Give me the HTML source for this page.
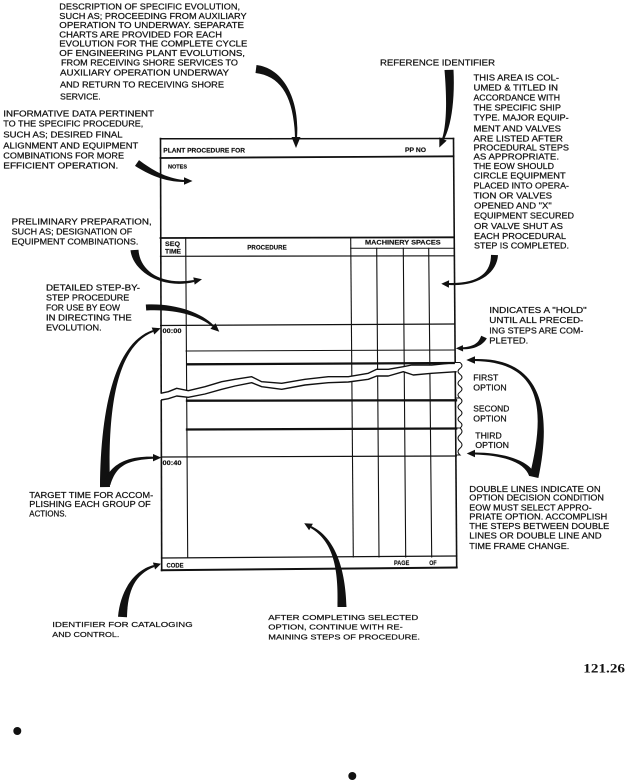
<!DOCTYPE html>
<html><head><meta charset="utf-8"><style>
html,body{margin:0;padding:0;background:#fff;}
svg{display:block;}
.t{font-family:"Liberation Sans",sans-serif;font-size:8.3px;fill:#111;stroke:#111;stroke-width:0.22px;}
.s{font-family:"Liberation Sans",sans-serif;font-size:7.6px;fill:#111;stroke:#111;stroke-width:0.2px;}
.b{font-family:"Liberation Sans",sans-serif;font-size:6px;font-weight:bold;fill:#111;stroke:#111;stroke-width:0.15px;}
</style></head><body>
<svg width="629" height="784" viewBox="0 0 629 784" xmlns="http://www.w3.org/2000/svg">
<rect x="0" y="0" width="629" height="784" fill="#fff"/>

<!-- FORM lines -->
<g stroke="#111" fill="none" stroke-linecap="square">
  <line x1="160.5" y1="138.5" x2="161.7" y2="570.5" stroke-width="1.6"/>
  <line x1="453.5" y1="138.5" x2="456.7" y2="567.5" stroke-width="1.6"/>
  <line x1="185.7" y1="237.7" x2="187.7" y2="557.5" stroke-width="1.1"/>
  <line x1="350.7" y1="237.7" x2="353.3" y2="557" stroke-width="1.1"/>
  <line x1="376.7" y1="248.3" x2="379" y2="557" stroke-width="1.1"/>
  <line x1="403.3" y1="248.3" x2="405.7" y2="557" stroke-width="1.1"/>
  <line x1="428.7" y1="248.3" x2="431.7" y2="557" stroke-width="1.1"/>
  <line x1="160.5" y1="138.8" x2="453.5" y2="138.5" stroke-width="1.5"/>
  <line x1="160.5" y1="158" x2="453.5" y2="156.3" stroke-width="1.8"/>
  <line x1="160.5" y1="238" x2="453.7" y2="237.3" stroke-width="1.8"/>
  <line x1="350.7" y1="248.3" x2="453.8" y2="248.3" stroke-width="1"/>
  <line x1="160.5" y1="256.3" x2="453.8" y2="255.8" stroke-width="1.2"/>
  <line x1="160.6" y1="325.5" x2="454.3" y2="324" stroke-width="1.2"/>
  <line x1="186" y1="351" x2="454.5" y2="350" stroke-width="1"/>
  <line x1="161" y1="457" x2="456.3" y2="456" stroke-width="1.2"/>
  <line x1="161.5" y1="558" x2="456.7" y2="556" stroke-width="1.2"/>
  <line x1="161.7" y1="570.3" x2="456.7" y2="567.5" stroke-width="2"/>
  <line x1="187" y1="400.7" x2="456" y2="400.3" stroke-width="2.3"/>
  <line x1="187" y1="429.5" x2="456.2" y2="428.5" stroke-width="2.3"/>
</g>

<!-- torn gap -->
<polygon fill="#fff" points="157,393.3 161,393.3 168.3,391.7 176.7,388.3 188.3,390.7 205,386.7 221.7,381.7 235,379.3 251.7,376.7 261.7,381.7 281.7,383.3 305,379.3 328.3,376.7 348.3,376.7 368.3,373.3 376.7,369.3 388.3,369.3 403.3,366.7 411.7,365 431.7,365 455,362.7 458,362.7 458,371.7 456.7,371.7 431.7,373.3 413.3,375 403.3,371.7 388.3,376 376.7,376 368.3,379.3 348.3,382 328.3,382.7 305,385 281.7,389.3 261.7,386.7 251.7,382.7 235,386 221.7,389.3 205,394 188.3,397.3 176.7,396 168.3,398.7 161,400 157,400"/>
<g stroke="#111" fill="none" stroke-width="1.4" stroke-linejoin="round">
  <polyline points="160.6,393.3 168.3,391.7 176.7,388.3 188.3,390.7 205,386.7 221.7,381.7 235,379.3 251.7,376.7 261.7,381.7 281.7,383.3 305,379.3 328.3,376.7 348.3,376.7 368.3,373.3 376.7,369.3 388.3,369.3 403.3,366.7 411.7,365 431.7,365 455,362.7"/>
  <polyline points="161,400 168.3,398.7 176.7,396 188.3,397.3 205,394 221.7,389.3 235,386 251.7,382.7 261.7,386.7 281.7,389.3 305,385 328.3,382.7 348.3,382 368.3,379.3 376.7,376 388.3,376 403.3,371.7 413.3,375 431.7,373.3 456.6,371.7"/>
</g>
<line x1="186" y1="364.3" x2="454.8" y2="363" stroke="#111" stroke-width="2.3"/>

<!-- option bracket -->
<g stroke="#111" fill="none" stroke-width="1">
  <path d="M455,362.5 H460 q4,2.96 0,5.92 t0,5.92 t0,5.92 t0,5.92 t0,5.92 t0,5.92"/>
  <path d="M456,398 H460 q4,3 0,6 t0,6 t0,6 t0,6 t0,6"/>
  <path d="M456,428 H460 q4,3.375 0,6.75 t0,6.75 t0,6.75 t0,6.75 H456"/>
</g>

<!-- form labels -->
<text class="b" x="163.3" y="152.3" textLength="81.7" lengthAdjust="spacingAndGlyphs">PLANT PROCEDURE FOR</text>
<text class="b" x="405" y="152" textLength="21" lengthAdjust="spacingAndGlyphs">PP NO</text>
<text class="b" x="168" y="168.5" textLength="19" lengthAdjust="spacingAndGlyphs" style="font-size:5.5px">NOTES</text>
<text class="b" x="165" y="246.2" textLength="15" lengthAdjust="spacingAndGlyphs">SEQ</text>
<text class="b" x="165" y="253.3" textLength="16" lengthAdjust="spacingAndGlyphs">TIME</text>
<text class="b" x="247.3" y="249.6" textLength="39.4" lengthAdjust="spacingAndGlyphs">PROCEDURE</text>
<text class="b" x="365" y="244.6" textLength="75.7" lengthAdjust="spacingAndGlyphs">MACHINERY  SPACES</text>
<text class="b" x="162.5" y="333.2" textLength="19" lengthAdjust="spacingAndGlyphs">00:00</text>
<text class="b" x="162.5" y="465" textLength="19" lengthAdjust="spacingAndGlyphs">00:40</text>
<text class="b" x="166.5" y="567.3" textLength="17" lengthAdjust="spacingAndGlyphs">CODE</text>
<text class="b" x="394" y="565.2" textLength="15.3" lengthAdjust="spacingAndGlyphs">PAGE</text>
<text class="b" x="429.3" y="565" textLength="7.4" lengthAdjust="spacingAndGlyphs">OF</text>

<!-- ARROWS -->
<g fill="#111">
  <path d="M256.5,65 C282.5,68 300,98 297,138 L295,138 C294,98 281.5,76 255.5,73 Z"/>
  <path d="M291.5,137 L300.5,137 L296,148 Z"/>
  <path d="M444.5,70 C447,100 446.7,124 442.1,138.6 L443.9,139.4 C451.3,126 455,99.7 453.5,69.7 Z"/>
  <path d="M439.3,137.4 L446.7,140.6 L439.3,147.5 Z"/>
  <path d="M139,160.1 C151.7,169.5 165.1,178 184.1,180 L183.9,182 C164.9,182 148.3,174.5 135,165.9 Z"/>
  <path d="M184,177.3 L184,184.7 L192.5,181 Z"/>
  <path d="M130.5,250.3 C132.5,270.3 160.4,290 194.2,282 L193.8,280 C159.6,286 139.5,269.7 138.5,249.7 Z"/>
  <path d="M194.7,284.6 L193.3,277.4 L202,279.3 Z"/>
  <path d="M145.8,304.5 C174.8,303 201.4,312.5 213.7,325.3 L212.3,326.7 C198.6,315.5 175.2,309 146.2,310.5 Z"/>
  <path d="M210.4,328.8 L215.6,323.2 L219.3,331.8 Z"/>
  <path d="M110,487 C107.5,410 115.7,346.9 153.3,331.9 L152.7,330.1 C114.3,343.1 100.5,410 100,487.1 Z"/>
  <path d="M154.3,334.5 L151.7,327.5 L160.7,328.2 Z"/>
  <path d="M110.3,485.1 C115.8,467 125,460 153,458.7 L153,456.7 C125,456 110.2,465 103.7,482.9 Z"/>
  <path d="M153,454 L153,461.4 L161.3,457.6 Z"/>
  <path d="M491,254.9 C491,271.9 480,283.5 449,283 L449,285 C480,286.5 497,272.1 498,255.1 Z"/>
  <path d="M449.1,280.3 L448.9,287.7 L441.3,283.8 Z"/>
  <path d="M481.2,335.8 C478.7,343 474,346.5 463,347.3 L463,349.3 C474,349.5 483.3,345 486.8,338.2 Z"/>
  <path d="M463.1,351.5 L462.9,345.1 L455.8,348.4 Z"/>
  <path d="M538.4,478 C551.4,415.8 545,357.5 475,359 L475,361 C545,362.5 544.6,414.2 529.6,476 Z"/>
  <path d="M475,356.3 L475,363.7 L466.3,360 Z"/>
  <path d="M534.8,473.9 C529.3,461.1 505,452.5 475,452.5 L475,454.5 C505,455.5 524.7,462.9 529.2,476.1 Z"/>
  <path d="M475,449.8 L475,457.2 L466.7,453.5 Z"/>
  <path d="M127,617.2 C127.5,590.2 135.6,573.9 154.3,567 L153.7,565 C134.4,570.1 120.5,589.8 118,616.8 Z"/>
  <path d="M155.1,569.5 L152.9,562.5 L161,563.8 Z"/>
  <path d="M346.5,607 C345.5,570 336,538.2 311.5,526.1 L310.5,527.9 C334,541.8 338.5,570 337.5,607 Z"/>
  <path d="M312.9,523.7 L309.1,530.3 L304.2,523.3 Z"/>
</g>

<!-- CALLOUT TEXT -->
<g>
<text class="t" x="59.3" y="9.7" textLength="180.7" lengthAdjust="spacingAndGlyphs">DESCRIPTION OF SPECIFIC EVOLUTION,</text>
<text class="t" x="59.3" y="19" textLength="187.4" lengthAdjust="spacingAndGlyphs">SUCH AS; PROCEEDING FROM AUXILIARY</text>
<text class="t" x="59.3" y="28" textLength="184.7" lengthAdjust="spacingAndGlyphs">OPERATION TO UNDERWAY.  SEPARATE</text>
<text class="t" x="59.3" y="37.3" textLength="162.7" lengthAdjust="spacingAndGlyphs">CHARTS ARE PROVIDED FOR EACH</text>
<text class="t" x="59.3" y="46.3" textLength="188" lengthAdjust="spacingAndGlyphs">EVOLUTION FOR THE COMPLETE CYCLE</text>
<text class="t" x="59.3" y="55.8" textLength="185.7" lengthAdjust="spacingAndGlyphs">OF ENGINEERING PLANT EVOLUTIONS,</text>
<text class="t" x="61" y="65.5" textLength="177" lengthAdjust="spacingAndGlyphs">FROM RECEIVING SHORE SERVICES TO</text>
<text class="t" x="60" y="75.5" textLength="169" lengthAdjust="spacingAndGlyphs">AUXILIARY OPERATION UNDERWAY</text>
<text class="t" x="60" y="87.5" textLength="164" lengthAdjust="spacingAndGlyphs">AND RETURN TO RECEIVING SHORE</text>
<text class="t" x="60" y="99.5" textLength="40.7" lengthAdjust="spacingAndGlyphs">SERVICE.</text>

<text class="t" x="3.3" y="116.3" textLength="150.7" lengthAdjust="spacingAndGlyphs">INFORMATIVE DATA PERTINENT</text>
<text class="t" x="3.3" y="126.3" textLength="140" lengthAdjust="spacingAndGlyphs">TO THE SPECIFIC PROCEDURE,</text>
<text class="t" x="3.3" y="137.3" textLength="119.3" lengthAdjust="spacingAndGlyphs">SUCH AS; DESIRED FINAL</text>
<text class="t" x="3.3" y="148.7" textLength="135" lengthAdjust="spacingAndGlyphs">ALIGNMENT AND EQUIPMENT</text>
<text class="t" x="3.3" y="158.7" textLength="120.7" lengthAdjust="spacingAndGlyphs">COMBINATIONS FOR MORE</text>
<text class="t" x="3.3" y="168.7" textLength="115" lengthAdjust="spacingAndGlyphs">EFFICIENT OPERATION.</text>

<text class="t" x="11.7" y="224.7" textLength="140" lengthAdjust="spacingAndGlyphs">PRELIMINARY PREPARATION,</text>
<text class="t" x="11.7" y="234.7" textLength="120.5" lengthAdjust="spacingAndGlyphs">SUCH AS; DESIGNATION OF</text>
<text class="t" x="11.7" y="244.3" textLength="126.7" lengthAdjust="spacingAndGlyphs">EQUIPMENT COMBINATIONS.</text>

<text class="t" x="380" y="65.7" textLength="115" lengthAdjust="spacingAndGlyphs">REFERENCE IDENTIFIER</text>

<text class="t" x="473.5" y="80.7" textLength="85.5" lengthAdjust="spacingAndGlyphs">THIS AREA IS COL-</text>
<text class="t" x="473.5" y="90.7" textLength="84.5" lengthAdjust="spacingAndGlyphs">UMED &amp; TITLED IN</text>
<text class="t" x="473.5" y="100.7" textLength="86.5" lengthAdjust="spacingAndGlyphs">ACCORDANCE WITH</text>
<text class="t" x="473.5" y="110.7" textLength="87.5" lengthAdjust="spacingAndGlyphs">THE SPECIFIC SHIP</text>
<text class="t" x="473.5" y="120.7" textLength="95.2" lengthAdjust="spacingAndGlyphs">TYPE.  MAJOR EQUIP-</text>
<text class="t" x="473.5" y="131.3" textLength="87.5" lengthAdjust="spacingAndGlyphs">MENT AND VALVES</text>
<text class="t" x="473.5" y="141.3" textLength="89.5" lengthAdjust="spacingAndGlyphs">ARE LISTED AFTER</text>
<text class="t" x="473.5" y="150.7" textLength="95.5" lengthAdjust="spacingAndGlyphs">PROCEDURAL STEPS</text>
<text class="t" x="473.5" y="159.7" textLength="85.5" lengthAdjust="spacingAndGlyphs">AS APPROPRIATE.</text>
<text class="t" x="473.5" y="169" textLength="80.5" lengthAdjust="spacingAndGlyphs">THE EOW SHOULD</text>
<text class="t" x="473.5" y="178.7" textLength="92.2" lengthAdjust="spacingAndGlyphs">CIRCLE EQUIPMENT</text>
<text class="t" x="473.5" y="188.3" textLength="95.5" lengthAdjust="spacingAndGlyphs">PLACED INTO OPERA-</text>
<text class="t" x="473.5" y="198.7" textLength="78.5" lengthAdjust="spacingAndGlyphs">TION OR VALVES</text>
<text class="t" x="474" y="208.7" textLength="77.7" lengthAdjust="spacingAndGlyphs">OPENED AND "X"</text>
<text class="t" x="474" y="218.7" textLength="100" lengthAdjust="spacingAndGlyphs">EQUIPMENT SECURED</text>
<text class="t" x="474" y="229" textLength="89" lengthAdjust="spacingAndGlyphs">OR VALVE SHUT AS</text>
<text class="t" x="474" y="239" textLength="92" lengthAdjust="spacingAndGlyphs">EACH PROCEDURAL</text>
<text class="t" x="474" y="248.7" textLength="95" lengthAdjust="spacingAndGlyphs">STEP IS COMPLETED.</text>

<text class="t" x="46" y="290.3" textLength="94" lengthAdjust="spacingAndGlyphs">DETAILED STEP-BY-</text>
<text class="t" x="46" y="300.3" textLength="83.3" lengthAdjust="spacingAndGlyphs">STEP PROCEDURE</text>
<text class="t" x="46" y="310.3" textLength="74" lengthAdjust="spacingAndGlyphs">FOR USE BY EOW</text>
<text class="t" x="46" y="320.3" textLength="85.7" lengthAdjust="spacingAndGlyphs">IN DIRECTING THE</text>
<text class="t" x="46" y="330.3" textLength="55.7" lengthAdjust="spacingAndGlyphs">EVOLUTION.</text>

<text class="t" x="489.3" y="313" textLength="97.4" lengthAdjust="spacingAndGlyphs">INDICATES A "HOLD"</text>
<text class="t" x="489.3" y="323" textLength="94" lengthAdjust="spacingAndGlyphs">UNTIL ALL PRECED-</text>
<text class="t" x="489.3" y="333.7" textLength="94" lengthAdjust="spacingAndGlyphs">ING STEPS ARE COM-</text>
<text class="t" x="489.3" y="343.7" textLength="39" lengthAdjust="spacingAndGlyphs">PLETED.</text>

<text class="t" x="473.3" y="380.3" textLength="25" lengthAdjust="spacingAndGlyphs">FIRST</text>
<text class="t" x="473.3" y="390.3" textLength="33.4" lengthAdjust="spacingAndGlyphs">OPTION</text>
<text class="t" x="473.3" y="411.3" textLength="36" lengthAdjust="spacingAndGlyphs">SECOND</text>
<text class="t" x="473.3" y="421.3" textLength="33.4" lengthAdjust="spacingAndGlyphs">OPTION</text>
<text class="t" x="475.3" y="438.7" textLength="26.4" lengthAdjust="spacingAndGlyphs">THIRD</text>
<text class="t" x="475.3" y="448" textLength="33.7" lengthAdjust="spacingAndGlyphs">OPTION</text>

<text class="t" x="469.3" y="492" textLength="131.4" lengthAdjust="spacingAndGlyphs">DOUBLE LINES INDICATE ON</text>
<text class="t" x="469.3" y="500.3" textLength="134.7" lengthAdjust="spacingAndGlyphs">OPTION DECISION CONDITION</text>
<text class="t" x="469.3" y="510.3" textLength="122.4" lengthAdjust="spacingAndGlyphs">EOW MUST SELECT APPRO-</text>
<text class="t" x="469.3" y="519.7" textLength="138" lengthAdjust="spacingAndGlyphs">PRIATE OPTION. ACCOMPLISH</text>
<text class="t" x="469.3" y="529" textLength="140" lengthAdjust="spacingAndGlyphs">THE STEPS BETWEEN DOUBLE</text>
<text class="t" x="469.3" y="538.3" textLength="132.4" lengthAdjust="spacingAndGlyphs">LINES OR DOUBLE LINE AND</text>
<text class="t" x="469.3" y="549" textLength="100" lengthAdjust="spacingAndGlyphs">TIME FRAME CHANGE.</text>

<text class="t" x="29.3" y="498" textLength="124" lengthAdjust="spacingAndGlyphs">TARGET TIME FOR ACCOM-</text>
<text class="t" x="29.3" y="507" textLength="121.4" lengthAdjust="spacingAndGlyphs">PLISHING EACH GROUP OF</text>
<text class="t" x="29.3" y="516.3" textLength="37.4" lengthAdjust="spacingAndGlyphs">ACTIONS.</text>

<text class="s" x="52.3" y="626.8" textLength="140.4" lengthAdjust="spacingAndGlyphs">IDENTIFIER FOR CATALOGING</text>
<text class="s" x="52.3" y="636.8" textLength="67" lengthAdjust="spacingAndGlyphs">AND CONTROL.</text>

<text class="s" x="268.3" y="619.8" textLength="150" lengthAdjust="spacingAndGlyphs">AFTER COMPLETING SELECTED</text>
<text class="s" x="268.3" y="629.5" textLength="134.4" lengthAdjust="spacingAndGlyphs">OPTION, CONTINUE WITH RE-</text>
<text class="s" x="268.3" y="639.3" textLength="151.7" lengthAdjust="spacingAndGlyphs">MAINING STEPS OF PROCEDURE.</text>
</g>

<text x="583.3" y="672.5" textLength="41.7" lengthAdjust="spacingAndGlyphs" style="font-family:'Liberation Serif',serif;font-size:12.5px;font-weight:bold;fill:#111">121.26</text>

<circle cx="17.3" cy="731" r="4" fill="#111"/>
<circle cx="352.3" cy="776" r="4" fill="#111"/>
</svg>
</body></html>
